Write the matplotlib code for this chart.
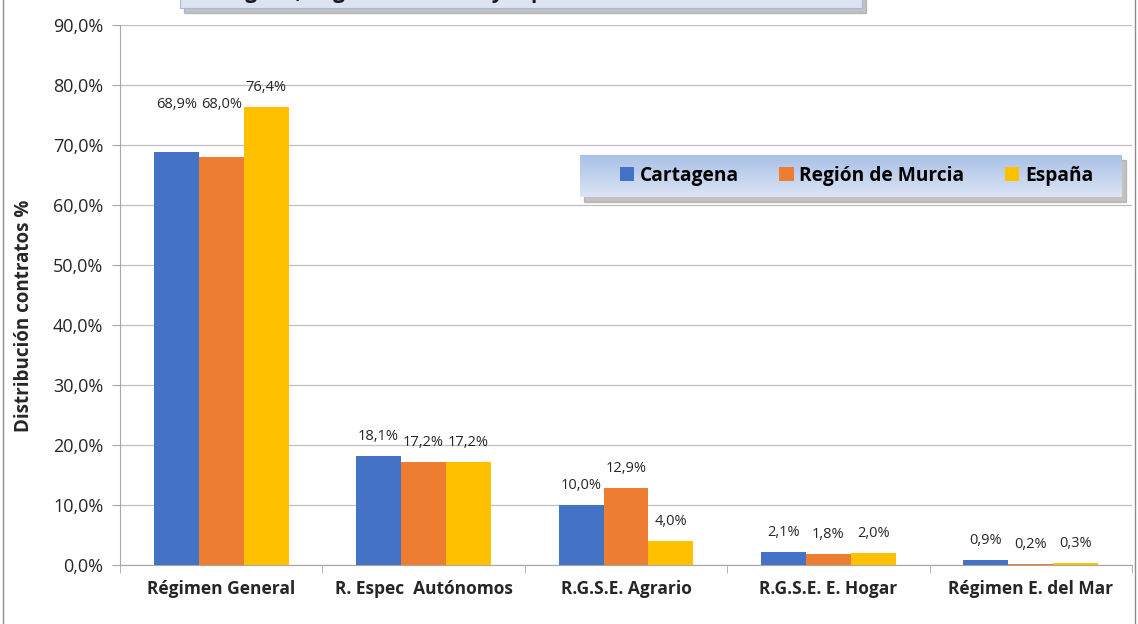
import matplotlib as mpl
import matplotlib.pyplot as plt
import numpy as np
from matplotlib.patches import Rectangle

mpl.rcParams.update({
    "font.family": ["Open Sans", "DejaVu Sans"],
    "axes.edgecolor": "#A6A6A6",
})

categories = ["Régimen General", "R. Espec  Autónomos", "R.G.S.E. Agrario",
              "R.G.S.E. E. Hogar", "Régimen E. del Mar"]
series_names = ["Cartagena", "Región de Murcia", "España"]
cartagena = [68.9, 18.1, 10.0, 2.1, 0.9]
murcia = [68.0, 17.2, 12.9, 1.8, 0.2]
espana = [76.4, 17.2, 4.0, 2.0, 0.3]
colors = ["#4472C4", "#ED7D31", "#FFC000"]
title_text = "Cartagena, Región de Murcia y España"

fig = plt.figure(figsize=(11.38, 6.24), dpi=100)
W, H = 1138, 624
ax = fig.add_axes([120 / W, 1 - 565 / H, (1132 - 120) / W, (565 - 25) / H])

x = np.arange(len(categories))
bw = 0.222
for i, (vals, col) in enumerate(zip([cartagena, murcia, espana], colors)):
    pos = x + (i - 1) * bw
    ax.bar(pos, vals, bw, color=col, label=series_names[i], zorder=3)
    for j, (p, v) in enumerate(zip(pos, vals)):
        # Excel nudged the first two labels of the first group upward
        nudged = j == 0 and i < 2
        ax.annotate(f"{v:.1f}%".replace(".", ","), (p, 77.0 if nudged else v),
                    xytext=(0, -1 if nudged else 14), textcoords="offset points",
                    ha="center", va="center", fontsize=10.5, color="#262626")

ax.set_xlim(-0.5, len(categories) - 0.5)
ax.set_ylim(0, 90)
ax.set_yticks(np.arange(0, 91, 10))
ax.set_yticklabels([f"{t:.1f}%".replace(".", ",") for t in np.arange(0, 91, 10)],
                   fontsize=13, color="#262626")
ax.yaxis.grid(True, color="#BFBFBF", lw=0.9, zorder=0)
ax.set_axisbelow(True)
for s in ["top", "right"]:
    ax.spines[s].set_visible(False)
ax.tick_params(axis="y", length=6, color="#A6A6A6", pad=6)

ax.set_xticks(x)
ax.set_xticklabels(categories, fontsize=12.5, fontweight="bold", color="#262626")
ax.tick_params(axis="x", length=0, pad=11)
ax.set_xticks(np.arange(-0.5, len(categories), 1), minor=True)
ax.tick_params(axis="x", which="minor", length=6, color="#A6A6A6")

ax.set_ylabel("Distribución contratos %", fontsize=13.5, fontweight="bold",
              color="#262626")
ax.yaxis.set_label_coords(-86 / (1132 - 120), (565 - 316) / (565 - 25))

# legend box with gradient and shadow
lx0, ly0, lx1, ly1 = 580 / W, 1 - 197 / H, 1122 / W, 1 - 155 / H
shadow = Rectangle((lx0 + 4 / W, ly0 - 5 / H), lx1 - lx0, ly1 - ly0,
                   transform=fig.transFigure, color="#9A9A9A", alpha=0.6, zorder=5)
fig.patches.append(shadow)
grad = np.linspace(0, 1, 64).reshape(-1, 1)
cmap = mpl.colors.LinearSegmentedColormap.from_list("lg", ["#DCE5F4", "#A9C0E6"])
gax = fig.add_axes([lx0, ly0, lx1 - lx0, ly1 - ly0], zorder=6)
gax.imshow(grad, aspect="auto", cmap=cmap, origin="lower", extent=[0, 1, 0, 1])
gax.set_axis_off()
handles, labels = ax.get_legend_handles_labels()
gax.legend(handles, labels, loc="center", ncol=3, frameon=False,
           bbox_to_anchor=(0.51, 0.5),
           prop={"weight": "bold", "size": 13.8}, handlelength=0.75,
           handleheight=0.75, handletextpad=0.3, columnspacing=2.1)

# title box, mostly above the visible area (as in the source crop)
tx0, tx1 = 180 / W, 862 / W
tshadow = Rectangle((tx0 + 4 / W, 1 - 13 / H), tx1 - tx0, 40 / H,
                    transform=fig.transFigure, color="#9A9A9A", alpha=0.6, zorder=5)
fig.patches.append(tshadow)
tbox = Rectangle((tx0, 1 - 8 / H), tx1 - tx0, 40 / H, transform=fig.transFigure,
                 facecolor="#DCE3F2", edgecolor="#A9B8D9", lw=0.8, zorder=6)
fig.patches.append(tbox)
fig.text(188 / W, 1 + 2 / H, title_text, fontsize=15, fontweight="bold",
         ha="left", va="baseline", color="#1A1A1A", zorder=7)

# outer frame
frame = Rectangle((3 / W, -0.01), (1135 - 3) / W, 1.05, transform=fig.transFigure,
                  fill=False, edgecolor="#8C8C8C", lw=1.0, zorder=1)
fig.patches.append(frame)

fig.savefig("out.png", dpi=100)
